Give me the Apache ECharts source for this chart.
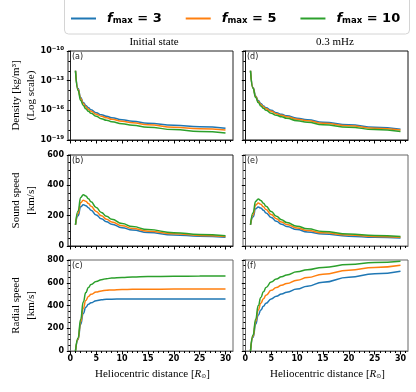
<!DOCTYPE html>
<html>
<head>
<meta charset="utf-8">
<script src="https://cdn.jsdelivr.net/npm/echarts@6/dist/echarts.min.js"></script>
<style>
html, body { margin: 0; padding: 0; background: #fff; }
#main { width: 416px; height: 392px; }
</style>
</head>
<body>
<div id="main"></div>
<script>
// heliocentric distance samples [R_sun]
const dist = [1, 1.5, 2, 2.5, 3, 3.5, 4, 5, 6, 7, 8, 10, 12, 15, 20, 25, 30];

// density, log10 [kg/m^3] -- (a) initial state
const densA3  = [-12.0, -13.8, -14.7, -15.2, -15.5, -15.75, -15.95, -16.25, -16.45, -16.6, -16.75, -16.95, -17.1, -17.3, -17.5, -17.65, -17.8];
const densA5  = [-12.0, -13.9, -14.8, -15.3, -15.65, -15.9, -16.1, -16.4, -16.6, -16.75, -16.9, -17.1, -17.25, -17.45, -17.7, -17.85, -18.0];
const densA10 = [-12.0, -14.0, -15.0, -15.5, -15.85, -16.1, -16.3, -16.6, -16.85, -17.0, -17.15, -17.35, -17.5, -17.7, -17.95, -18.15, -18.3];
// (d) 0.3 mHz
const densD3  = [-12.0, -13.7, -14.55, -15.0, -15.3, -15.55, -15.75, -16.0, -16.25, -16.4, -16.55, -16.8, -16.95, -17.2, -17.45, -17.7, -17.9];
const densD5  = [-12.0, -13.75, -14.6, -15.1, -15.4, -15.65, -15.85, -16.1, -16.35, -16.5, -16.65, -16.9, -17.05, -17.3, -17.55, -17.8, -18.0];
const densD10 = [-12.0, -13.8, -14.7, -15.2, -15.55, -15.8, -16.0, -16.3, -16.5, -16.65, -16.8, -17.05, -17.2, -17.45, -17.7, -17.95, -18.15];

// sound speed [km/s]
const csB3  = [140, 200, 258, 272, 266, 252, 236, 205, 180, 160, 144, 121, 105, 89, 73, 64, 58];
const csB5  = [140, 215, 285, 302, 295, 280, 262, 228, 199, 177, 159, 134, 116, 98, 80, 70, 63];
const csB10 = [140, 230, 320, 338, 330, 312, 292, 254, 221, 196, 176, 148, 128, 108, 88, 76, 68];
const csE3  = [140, 192, 245, 257, 250, 235, 218, 188, 163, 144, 129, 108, 93, 79, 65, 57, 52];
const csE5  = [140, 205, 270, 283, 275, 258, 240, 207, 179, 158, 142, 119, 102, 87, 72, 63, 57];
const csE10 = [140, 220, 295, 310, 300, 282, 262, 227, 196, 173, 155, 131, 113, 96, 79, 69, 62];

// radial speed [km/s]
const vrC3  = [0, 100, 235, 330, 385, 410, 424, 442, 450, 454, 456, 457, 457, 457, 457, 457, 457];
const vrC5  = [0, 105, 255, 375, 445, 480, 498, 518, 528, 534, 537, 540, 542, 543, 544, 545, 545];
const vrC10 = [0, 115, 280, 430, 515, 558, 584, 610, 627, 636, 641, 646, 650, 654, 657, 659, 660];
const vrF3  = [0, 120, 235, 315, 360, 393, 420, 458, 482, 501, 517, 545, 570, 605, 649, 679, 702];
const vrF5  = [0, 130, 260, 360, 420, 460, 490, 533, 558, 577, 593, 623, 646, 675, 710, 735, 754];
const vrF10 = [0, 140, 280, 400, 470, 520, 558, 606, 633, 653, 669, 696, 714, 735, 760, 777, 790];

const xTicks = [0, 5, 10, 15, 20, 25, 30];
const xMinorTicks = [0, 1, 2, 3, 4, 5, 6, 7, 8, 9, 10, 11, 12, 13, 14, 15, 16, 17, 18, 19, 20, 21, 22, 23, 24, 25, 26, 27, 28, 29, 30, 31];
const densTicks = [1e-19, 1e-16, 1e-13, 1e-10];
const densMinorTicks = [1e-19, 1e-18, 1e-17, 1e-16, 1e-15, 1e-14, 1e-13, 1e-12, 1e-11, 1e-10];
const fNames = ['3', '5', '10'];
const colors = ['#1f77b4', '#ff7f0e', '#2ca02c'];
const panelLabels = ['(a)', '(b)', '(c)', '(d)', '(e)', '(f)'];

const chart = echarts.init(document.getElementById('main'));

const colLeft = [68, 243];
const rowTop = [51, 155, 260];
const rowH = [89, 91, 91];
const panelW = 165;
const borderCol = ['#222', '#222', '#666', '#111', '#666', '#666'];

const tickFont = { fontFamily: 'DejaVu Sans', fontWeight: 'bold', fontSize: 8, color: '#000' };
const serif = 'Liberation Serif';

const grids = [];
const xAxes = [];
const yAxes = [];
for (let c = 0; c < 2; c++) {
  for (let r = 0; r < 3; r++) {
    const i = c * 3 + r;
    grids.push({
      left: colLeft[c], top: rowTop[r], width: panelW, height: rowH[r],
      show: true, borderColor: borderCol[i], borderWidth: 1, backgroundColor: 'transparent'
    });
  }
}
// major x axes 0..5
for (let i = 0; i < 6; i++) {
  const bottomRow = (i % 3) === 2;
  xAxes.push({
    type: 'value', gridIndex: i, min: -0.45, max: 31.45,
    axisLine: { show: true, onZero: false, lineStyle: { color: borderCol[i] } },
    axisTick: { show: true, customValues: xTicks, length: 3.5, lineStyle: { color: '#000' } },
    axisLabel: Object.assign({ show: bottomRow, customValues: xTicks, margin: 4 }, tickFont),
    splitLine: { show: false }
  });
}
// minor x axes 6..11
for (let i = 0; i < 6; i++) {
  xAxes.push({
    type: 'value', gridIndex: i, min: -0.45, max: 31.45, position: 'bottom',
    axisLine: { show: false },
    axisTick: { show: true, customValues: xMinorTicks, length: 2, lineStyle: { color: '#000' } },
    axisLabel: { show: false },
    splitLine: { show: false }
  });
}
const sup = (v) => {
  const e = Math.round(Math.log10(v));
  return '10{s|' + (e < 0 ? '\u2212' + (-e) : e) + '}';
};
// major y axes 0..5
for (let i = 0; i < 6; i++) {
  const r = i % 3;
  const leftCol = i < 3;
  const base = {
    gridIndex: i,
    axisLine: { show: true, lineStyle: { color: borderCol[i] } },
    splitLine: { show: false }
  };
  if (r === 0) {
    yAxes.push(Object.assign(base, {
      type: 'log', logBase: 10, min: 1e-19, max: 1e-10,
      axisTick: { show: true, customValues: densTicks, length: 3.5, lineStyle: { color: '#000' } },
      axisLabel: Object.assign({
        show: leftCol, customValues: densTicks, margin: 4, formatter: sup,
        rich: { s: { fontFamily: 'DejaVu Sans', fontWeight: 'bold', fontSize: 5.5, verticalAlign: 'top', padding: [0, 0, 5, 0] } }
      }, tickFont)
    }));
  } else {
    const max = r === 1 ? 600 : 800;
    yAxes.push(Object.assign(base, {
      type: 'value', min: 0, max: max, interval: 200,
      axisTick: { show: true, length: 3.5, lineStyle: { color: '#000' } },
      minorTick: { show: true, splitNumber: 4, length: 2, lineStyle: { color: '#000' } },
      axisLabel: Object.assign({ show: leftCol, margin: 4 }, tickFont)
    }));
  }
}
// minor y axes for log panels (index 6, 7)
[0, 3].forEach((g) => {
  yAxes.push({
    type: 'log', logBase: 10, min: 1e-19, max: 1e-10, gridIndex: g, position: 'left',
    axisLine: { show: false },
    axisTick: { show: true, customValues: densMinorTicks, length: 2, lineStyle: { color: '#000' } },
    axisLabel: { show: false },
    splitLine: { show: false }
  });
});

const panelData = [
  [densA3, densA5, densA10],
  [csB3, csB5, csB10],
  [vrC3, vrC5, vrC10],
  [densD3, densD5, densD10],
  [csE3, csE5, csE10],
  [vrF3, vrF5, vrF10]
];

const series = [];
panelData.forEach((sets, i) => {
  const isLog = (i % 3) === 0;
  sets.forEach((arr, k) => {
    series.push({
      name: 'f' + fNames[k],
      type: 'line',
      xAxisIndex: i, yAxisIndex: i,
      data: dist.map((x, j) => [x, isLog ? Math.pow(10, arr[j]) : arr[j]]),
      symbol: 'none',
      smooth: 0.5,
      smoothMonotone: 'x',
      lineStyle: { color: colors[k], width: 1.5 },
      itemStyle: { color: colors[k] },
      silent: true,
      z: 2 + k
    });
  });
});

const graphic = [
  { type: 'rect', shape: { x: 64.5, y: -8, width: 345, height: 42, r: 4 }, style: { fill: 'none', stroke: '#d4d4d4', lineWidth: 1 } },
  { type: 'text', x: 154, y: 42, style: { text: 'Initial state', fontFamily: serif, fontSize: 11, fill: '#000', align: 'center', verticalAlign: 'middle' } },
  { type: 'text', x: 335, y: 42, style: { text: '0.3 mHz', fontFamily: serif, fontSize: 11, fill: '#000', align: 'center', verticalAlign: 'middle' } }
];
const yNames = [
  ['Density [kg/m\u00b3]', '(Log scale)'],
  ['Sound speed', '[km/s]'],
  ['Radial speed', '[km/s]']
];
yNames.forEach((lines, r) => {
  const cy = rowTop[r] + rowH[r] / 2;
  graphic.push({ type: 'text', x: 16, y: cy, rotation: Math.PI / 2, style: { text: lines[0], fontFamily: serif, fontSize: 11, fill: '#000', align: 'center', verticalAlign: 'middle' } });
  graphic.push({ type: 'text', x: 31, y: cy, rotation: Math.PI / 2, style: { text: lines[1], fontFamily: serif, fontSize: 11, fill: '#000', align: 'center', verticalAlign: 'middle' } });
});
[0, 1].forEach((c) => {
  graphic.push({
    type: 'text', x: colLeft[c] + panelW / 2 + 2, y: 374,
    style: {
      text: 'Heliocentric distance [{i|R}{s|\u2299}]',
      fontFamily: serif, fontSize: 11, fill: '#000', align: 'center', verticalAlign: 'middle',
      rich: {
        i: { fontFamily: serif, fontStyle: 'italic', fontSize: 11 },
        s: { fontFamily: 'DejaVu Sans', fontSize: 6, verticalAlign: 'bottom', padding: [5, 0, 0, 0] }
      }
    }
  });
});
panelLabels.forEach((t, i) => {
  const c = i < 3 ? 0 : 1;
  const r = i % 3;
  graphic.push({ type: 'text', x: colLeft[c] + 4, y: rowTop[r] + 6, style: { text: t, fontFamily: 'DejaVu Sans', fontSize: 8, fill: '#222', align: 'left', verticalAlign: 'middle' } });
});

chart.setOption({
  animation: false,
  grid: grids,
  xAxis: xAxes,
  yAxis: yAxes,
  series: series,
  graphic: graphic,
  legend: {
    data: ['f3', 'f5', 'f10'],
    left: 66, top: 7,
    itemWidth: 25, itemHeight: 12, itemGap: 24,
    icon: 'path://M0,5 L25,5 L25,7 L0,7 Z',
    formatter: (name) => '{f|f}{m|max}{t| = ' + name.slice(1) + '}',
    textStyle: {
      rich: {
        f: { fontFamily: 'DejaVu Sans', fontWeight: 'bold', fontStyle: 'italic', fontSize: 13, color: '#000', padding: [0, 0, 0, 6] },
        m: { fontFamily: 'DejaVu Sans', fontWeight: 'bold', fontSize: 8.5, color: '#000', verticalAlign: 'bottom', padding: [4, 0, 0, 0] },
        t: { fontFamily: 'DejaVu Sans', fontWeight: 'bold', fontSize: 13, color: '#000' }
      }
    }
  }
});
</script>
</body>
</html>
